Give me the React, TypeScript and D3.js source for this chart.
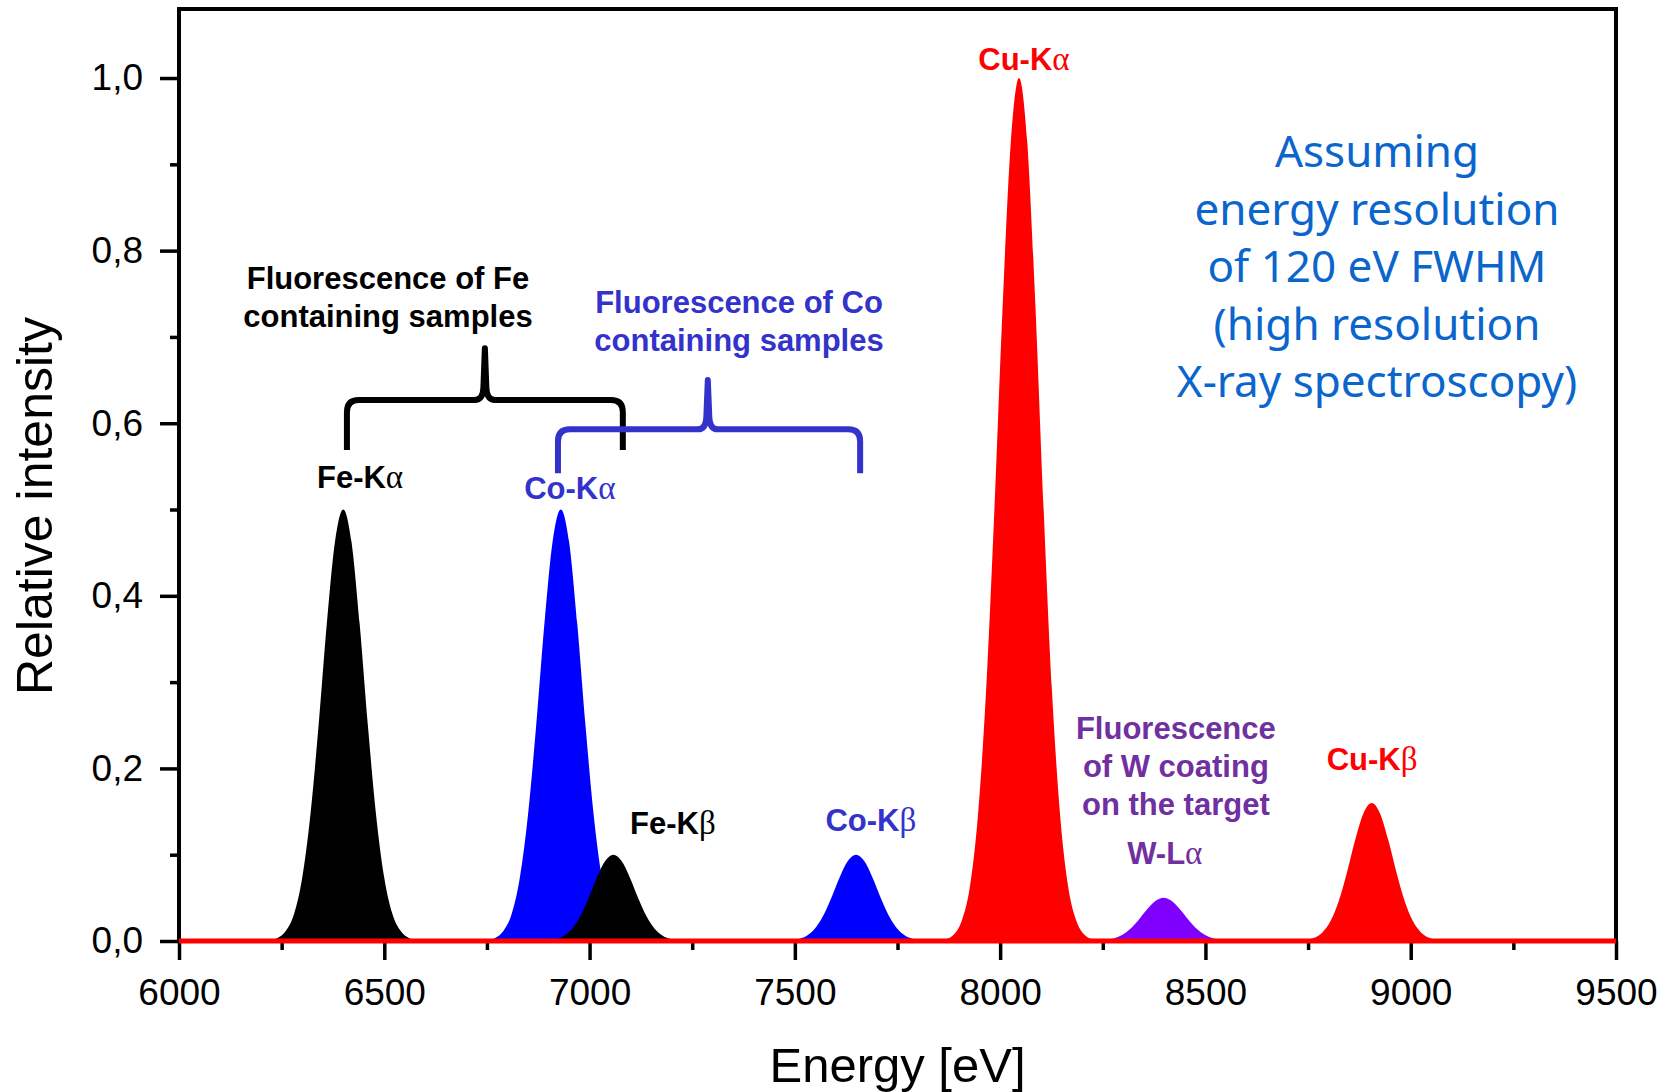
import React, { useEffect, useRef } from "react";
import * as d3 from "d3";

// emission lines (drawn in this order, later on top)
const lineNames = ["W-Lα", "Co-Kα", "Co-Kβ", "Fe-Kα", "Fe-Kβ", "Cu-Kα", "Cu-Kβ"];
const lineElements = ["W", "Co", "Co", "Fe", "Fe", "Cu", "Cu"];
const lineEnergies = [8398, 6930, 7649, 6400, 7058, 8046, 8905];
const lineIntensities = [0.05, 0.5, 0.1, 0.5, 0.1, 1.0, 0.16];

// detector line shape, 120 eV FWHM: offset [eV] -> relative height
const profileOffsets = [
  -220, -200, -180, -160, -140, -120, -100, -80, -60, -40, -20, 0, 20, 40, 60,
  80, 100, 120, 140, 160, 180, 200, 220,
];
const profileValues = [
  0, 0.0004, 0.002, 0.007, 0.023, 0.062, 0.146, 0.292, 0.5, 0.735, 0.926, 1,
  0.926, 0.735, 0.5, 0.292, 0.146, 0.062, 0.023, 0.007, 0.002, 0.0004, 0,
];

const energyTicks = [6000, 6500, 7000, 7500, 8000, 8500, 9000, 9500];
const energyMinorTicks = [6250, 6750, 7250, 7750, 8250, 8750, 9250];
const intensityTicks = [0, 0.2, 0.4, 0.6, 0.8, 1.0];
const intensityMinorTicks = [0.1, 0.3, 0.5, 0.7, 0.9];

const elementColors = {
  Fe: "#000000",
  Co: "#0000ff",
  Cu: "#ff0000",
  W: "#8000ff",
};

const App = () => {
  const ref = useRef(null);

  useEffect(() => {
    if (ref.current) drawChart(ref.current);
  }, []);

  return (
    <svg
      ref={ref}
      width={1673}
      height={1092}
      style={{ position: "absolute", left: 0, top: 0, background: "#fff" }}
    />
  );
};

function drawChart(node) {
  const svg = d3.select(node);
  svg.selectAll("*").remove();

  const left = 179;
  const right = 1616;
  const top = 9;
  const bottom = 941;
  const font = "'Liberation Sans', Arial, sans-serif";

  const x = d3.scaleLinear().domain([6000, 9500]).range([left, right]);
  const y = d3.scaleLinear().domain([0, 1.08]).range([bottom, top]);

  // peaks as filled areas
  const area = d3
    .area()
    .x((d) => x(d[0]))
    .y0(y(0))
    .y1((d) => y(d[1]))
    .curve(d3.curveMonotoneX);

  lineNames.forEach((name, i) => {
    const pts = profileOffsets.map((o, j) => [
      lineEnergies[i] + o,
      lineIntensities[i] * profileValues[j],
    ]);
    svg
      .append("path")
      .datum(pts)
      .attr("fill", elementColors[lineElements[i]])
      .attr("d", area);
  });

  // axes
  const xAxis = svg.append("g").attr("transform", `translate(0,${bottom})`);
  xAxis.call(
    d3
      .axisBottom(x)
      .tickValues(energyTicks)
      .tickSize(19)
      .tickSizeOuter(0)
      .tickPadding(19)
      .tickFormat(d3.format("d"))
  );
  const xMinor = svg.append("g").attr("transform", `translate(0,${bottom})`);
  xMinor.call(
    d3
      .axisBottom(x)
      .tickValues(energyMinorTicks)
      .tickSize(9)
      .tickSizeOuter(0)
      .tickFormat(() => "")
  );
  const yAxis = svg.append("g").attr("transform", `translate(${left},0)`);
  yAxis.call(
    d3
      .axisLeft(y)
      .tickValues(intensityTicks)
      .tickSize(19)
      .tickSizeOuter(0)
      .tickPadding(17)
      .tickFormat((d) => d.toFixed(1).replace(".", ","))
  );
  const yMinor = svg.append("g").attr("transform", `translate(${left},0)`);
  yMinor.call(
    d3
      .axisLeft(y)
      .tickValues(intensityMinorTicks)
      .tickSize(9)
      .tickSizeOuter(0)
      .tickFormat(() => "")
  );

  [xAxis, xMinor, yAxis, yMinor].forEach((g) => {
    g.select(".domain").remove();
    g.selectAll(".tick line").attr("stroke", "#000").attr("stroke-width", 3.5);
    g.selectAll(".tick text")
      .attr("fill", "#000")
      .style("font-family", font)
      .style("font-size", "37px");
  });

  // frame
  svg
    .append("rect")
    .attr("x", left)
    .attr("y", top)
    .attr("width", right - left)
    .attr("height", bottom - top)
    .attr("fill", "none")
    .attr("stroke", "#000")
    .attr("stroke-width", 4);

  // red baseline of the Cu trace over everything
  svg
    .append("path")
    .datum(x.domain().map((e) => [e, 0]))
    .attr("fill", "none")
    .attr("stroke", elementColors.Cu)
    .attr("stroke-width", 5)
    .attr(
      "d",
      d3
        .line()
        .x((d) => x(d[0]))
        .y((d) => y(d[1]))
    );

  // axis titles
  svg
    .append("text")
    .attr("x", (left + right) / 2)
    .attr("y", 1082)
    .attr("text-anchor", "middle")
    .style("font-family", font)
    .style("font-size", "49px")
    .text("Energy [eV]");

  svg
    .append("text")
    .attr("transform", "translate(52,506) rotate(-90)")
    .attr("text-anchor", "middle")
    .style("font-family", font)
    .style("font-size", "50px")
    .text("Relative intensity");

  // annotations, anchored in data units
  const notes = [
    { lines: ["Fluorescence of Fe", "containing samples"], e: 6509, v: 0.755, color: "#000000" },
    { lines: ["Fluorescence of Co", "containing samples"], e: 7364, v: 0.728, color: "#3333cc" },
    { lines: ["Fluorescence", "of W coating", "on the target"], e: 8428, v: 0.234, color: "#7030a0" },
    { lines: ["Fe-Kα"], e: 6441, v: 0.525, color: "#000000" },
    { lines: ["Co-Kα"], e: 6952, v: 0.512, color: "#3333cc" },
    { lines: ["Fe-Kβ"], e: 7203, v: 0.124, color: "#000000" },
    { lines: ["Co-Kβ"], e: 7685, v: 0.127, color: "#3333cc" },
    { lines: ["Cu-Kα"], e: 8058, v: 1.009, color: "#ff0000" },
    { lines: ["Cu-Kβ"], e: 8906, v: 0.198, color: "#ff0000" },
    { lines: ["W-Lα"], e: 8401, v: 0.089, color: "#7030a0" },
  ];

  notes.forEach((n) => {
    const t = svg
      .append("text")
      .attr("text-anchor", "middle")
      .attr("fill", n.color)
      .style("font-family", font)
      .style("font-size", "31px")
      .style("font-weight", "bold");
    n.lines.forEach((line, i) => {
      const m = line.match(/^(.*?)([αβ])$/);
      const ts = t
        .append("tspan")
        .attr("x", x(n.e))
        .attr("y", y(n.v) + i * 38);
      if (m) {
        ts.append("tspan").text(m[1]);
        ts.append("tspan")
          .style("font-weight", "normal")
          .style("font-family", "'Liberation Serif', serif")
          .style("font-size", "33px")
          .text(m[2]);
      } else {
        ts.text(line);
      }
    });
  });

  // braces grouping the sample lines
  const braces = [
    { e0: 6409, e1: 7081, eTip: 6745, vBar: 0.627, vLeg: 0.569, vTip: 0.687, color: "#000000" },
    { e0: 6923, e1: 7659, eTip: 7288, vBar: 0.593, vLeg: 0.542, vTip: 0.65, color: "#3333cc" },
  ];
  braces.forEach((b) => {
    const xl = x(b.e0);
    const xr = x(b.e1);
    const xt = x(b.eTip);
    const yh = y(b.vBar);
    const yb = y(b.vLeg);
    const yt = y(b.vTip);
    const r = 12;
    const d =
      `M${xl},${yb} L${xl},${yh + r} Q${xl},${yh} ${xl + r},${yh} ` +
      `L${xt - 10},${yh} Q${xt - 2},${yh} ${xt - 1.5},${yh - 12} L${xt},${yt} ` +
      `L${xt + 1.5},${yh - 12} Q${xt + 2},${yh} ${xt + 10},${yh} ` +
      `L${xr - r},${yh} Q${xr},${yh} ${xr},${yh + r} L${xr},${yb}`;
    svg
      .append("path")
      .attr("d", d)
      .attr("fill", "none")
      .attr("stroke", b.color)
      .attr("stroke-width", 6)
      .attr("stroke-linejoin", "round");
  });

  // resolution note
  const noteLines = [
    "Assuming",
    "energy resolution",
    "of 120 eV FWHM",
    "(high resolution",
    "X-ray spectroscopy)",
  ];
  const note = svg
    .append("text")
    .attr("text-anchor", "middle")
    .attr("fill", "#0a66cc")
    .style("font-family", "'Noto Sans', sans-serif")
    .style("font-size", "44px");
  noteLines.forEach((line, i) => {
    note
      .append("tspan")
      .attr("x", 1377)
      .attr("y", 167 + i * 57.5)
      .text(line);
  });
}

export default App;
